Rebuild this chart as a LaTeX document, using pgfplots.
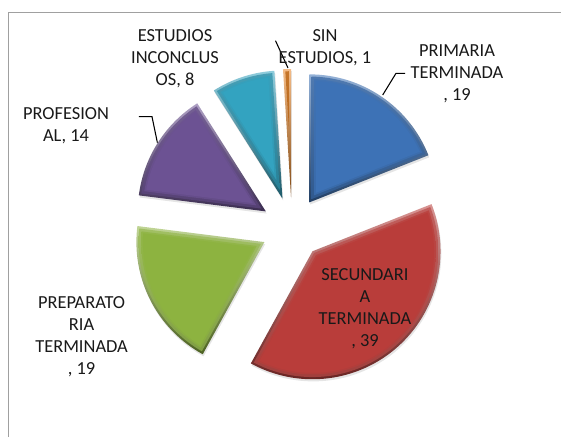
\documentclass[border=0pt]{standalone}
\usepackage{fontspec}
\setmainfont{Carlito}
\usepackage{pgfplots}
\usepackage{pgfplotstable}
\pgfplotsset{compat=1.18}
\definecolor{cA}{HTML}{3D72B6}
\definecolor{cB}{HTML}{B93D3A}
\definecolor{cC}{HTML}{8DB340}
\definecolor{cD}{HTML}{6C5293}
\definecolor{cE}{HTML}{33A3C0}
\definecolor{cF}{HTML}{EA8424}
\definecolor{frame}{HTML}{A0A0A0}

\pgfplotstableread{
idx value col
0 19 cA
1 39 cB
2 19 cC
3 14 cD
4 8 cE
5 1 cF
}\piedata

% inset wedge of slice: #1 = inset (axis units)
\newcommand\insetpath[1]{%
  \pgfmathsetmacro\kk{#1/sin(\half)}%
  \pgfmathsetmacro\ax{\cx+\kk*cos(\mid)}%
  \pgfmathsetmacro\ay{\cy+\kk*sin(\mid)}%
  \pgfmathsetmacro\rr{(128-#1)*0.75}%
}
\newcommand\drawslice[1]{%
  \edef\cx{\csname cx#1\endcsname}%
  \edef\cy{\csname cy#1\endcsname}%
  \edef\sa{\csname sa#1\endcsname}%
  \edef\sb{\csname sb#1\endcsname}%
  \edef\col{\csname sc#1\endcsname}%
  \pgfmathsetmacro\half{(\sa-\sb)/2}%
  \pgfmathsetmacro\mid{(\sa+\sb)/2}%
  \fill[black, opacity=0.10] ([shift={(0.6pt,-1.6pt)}]axis cs:\cx,\cy) -- ++(\sa:96pt) arc[start angle=\sa, end angle=\sb, radius=96pt] -- cycle;
  \begin{scope}
    \clip (axis cs:\cx,\cy) -- ++(\sa:96pt) arc[start angle=\sa, end angle=\sb, radius=96pt] -- cycle;
    \shade[top color=\col!55!white, bottom color=\col!55!black] (axis cs:\cx,\cy) -- ++(\sa:96pt) arc[start angle=\sa, end angle=\sb, radius=96pt] -- cycle;
    \insetpath{2.2}%
    \begin{scope}
      \clip (axis cs:\cx,\cy) circle[radius=\rr pt];
      \shade[top color=\col!80!white, bottom color=\col!78!black] (axis cs:\ax,\ay) -- ++(\sa:150pt) arc[start angle=\sa, end angle=\sb, radius=150pt] -- cycle;
    \end{scope}
    \insetpath{4.8}%
    \begin{scope}
      \clip (axis cs:\cx,\cy) circle[radius=\rr pt];
      \shade[top color=\col!95!white, bottom color=\col!93!black] (axis cs:\ax,\ay) -- ++(\sa:150pt) arc[start angle=\sa, end angle=\sb, radius=150pt] -- cycle;
    \end{scope}
    \insetpath{6.5}%
    \begin{scope}
      \clip (axis cs:\cx,\cy) circle[radius=\rr pt];
      \fill[\col] (axis cs:\ax,\ay) -- ++(\sa:150pt) arc[start angle=\sa, end angle=\sb, radius=150pt] -- cycle;
    \end{scope}
  \end{scope}%
}

\begin{document}
\begin{tikzpicture}
\pgfplotstablegetrowsof{\piedata}
\pgfmathtruncatemacro\nrows{\pgfplotsretval-1}
\gdef\tot{0}
\foreach \i in {0,...,\nrows}{%
  \pgfplotstablegetelem{\i}{value}\of\piedata
  \pgfmathsetmacro\t{\tot+\pgfplotsretval}%
  \xdef\tot{\t}}
\gdef\cum{0}
\foreach \i in {0,...,\nrows}{%
  \pgfplotstablegetelem{\i}{value}\of\piedata
  \let\vv\pgfplotsretval
  \pgfmathsetmacro\fa{\cum/\tot}%
  \pgfmathsetmacro\fb{(\cum+\vv)/\tot}%
  \pgfmathsetmacro\a{90-360*\fa}%
  \pgfmathsetmacro\b{90-360*\fb}%
  \pgfmathsetmacro\m{(\a+\b)/2}%
  \pgfmathsetmacro\ccx{292+31*cos(\m)}%
  \pgfmathsetmacro\ccy{209+31*sin(\m)}%
  \expandafter\xdef\csname sa\i\endcsname{\a}%
  \expandafter\xdef\csname sb\i\endcsname{\b}%
  \expandafter\xdef\csname cx\i\endcsname{\ccx}%
  \expandafter\xdef\csname cy\i\endcsname{\ccy}%
  \pgfmathsetmacro\c{\cum+\vv}%
  \xdef\cum{\c}%
  \pgfplotstablegetelem{\i}{col}\of\piedata
  \expandafter\xdef\csname sc\i\endcsname{\pgfplotsretval}%
}
\begin{axis}[
  x=0.75pt, y=0.75pt,
  xmin=0, xmax=561, ymin=0, ymax=437,
  scale only axis, hide axis, clip=false,
  at={(0,0)}, anchor=south west,
]
% frame
\addplot[frame, line width=0.9pt] coordinates {(8.3,0) (8.3,424.3) (561,424.3)};
\pgfplotsinvokeforeach{0,...,5}{\pgfplotsextra{\drawslice{#1}}}
% leader lines
\addplot[black, line width=0.8pt] coordinates {(275.5,396.3) (288,369)};
\addplot[black, line width=0.8pt] coordinates {(405,363.7) (396,363.7) (382.7,342)};
\addplot[black, line width=0.8pt] coordinates {(138.8,320.3) (152,320.3) (157.4,294.3)};
% labels
\tikzset{lab/.style={align=center, inner sep=0pt, font=\fontsize{13.8}{16.6}\selectfont, text=black!90}}
\node[lab] at (axis cs:175,378) {ESTUDIOS\\INCONCLUS\\OS, 8};
\node[lab] at (axis cs:325,389) {SIN\\ESTUDIOS, 1};
\node[lab] at (axis cs:457,363) {PRIMARIA\\TERMINADA\\, 19};
\node[lab] at (axis cs:66,311) {PROFESION\\AL, 14};
\node[lab] at (axis cs:81.6,100) {PREPARATO\\RIA\\TERMINADA\\, 19};
\node[lab] at (axis cs:365,128) {SECUNDARI\\A\\TERMINADA\\, 39};
\end{axis}
\pgfresetboundingbox
\useasboundingbox (0,0) rectangle (420.75pt,327.75pt);
\end{tikzpicture}
\end{document}
